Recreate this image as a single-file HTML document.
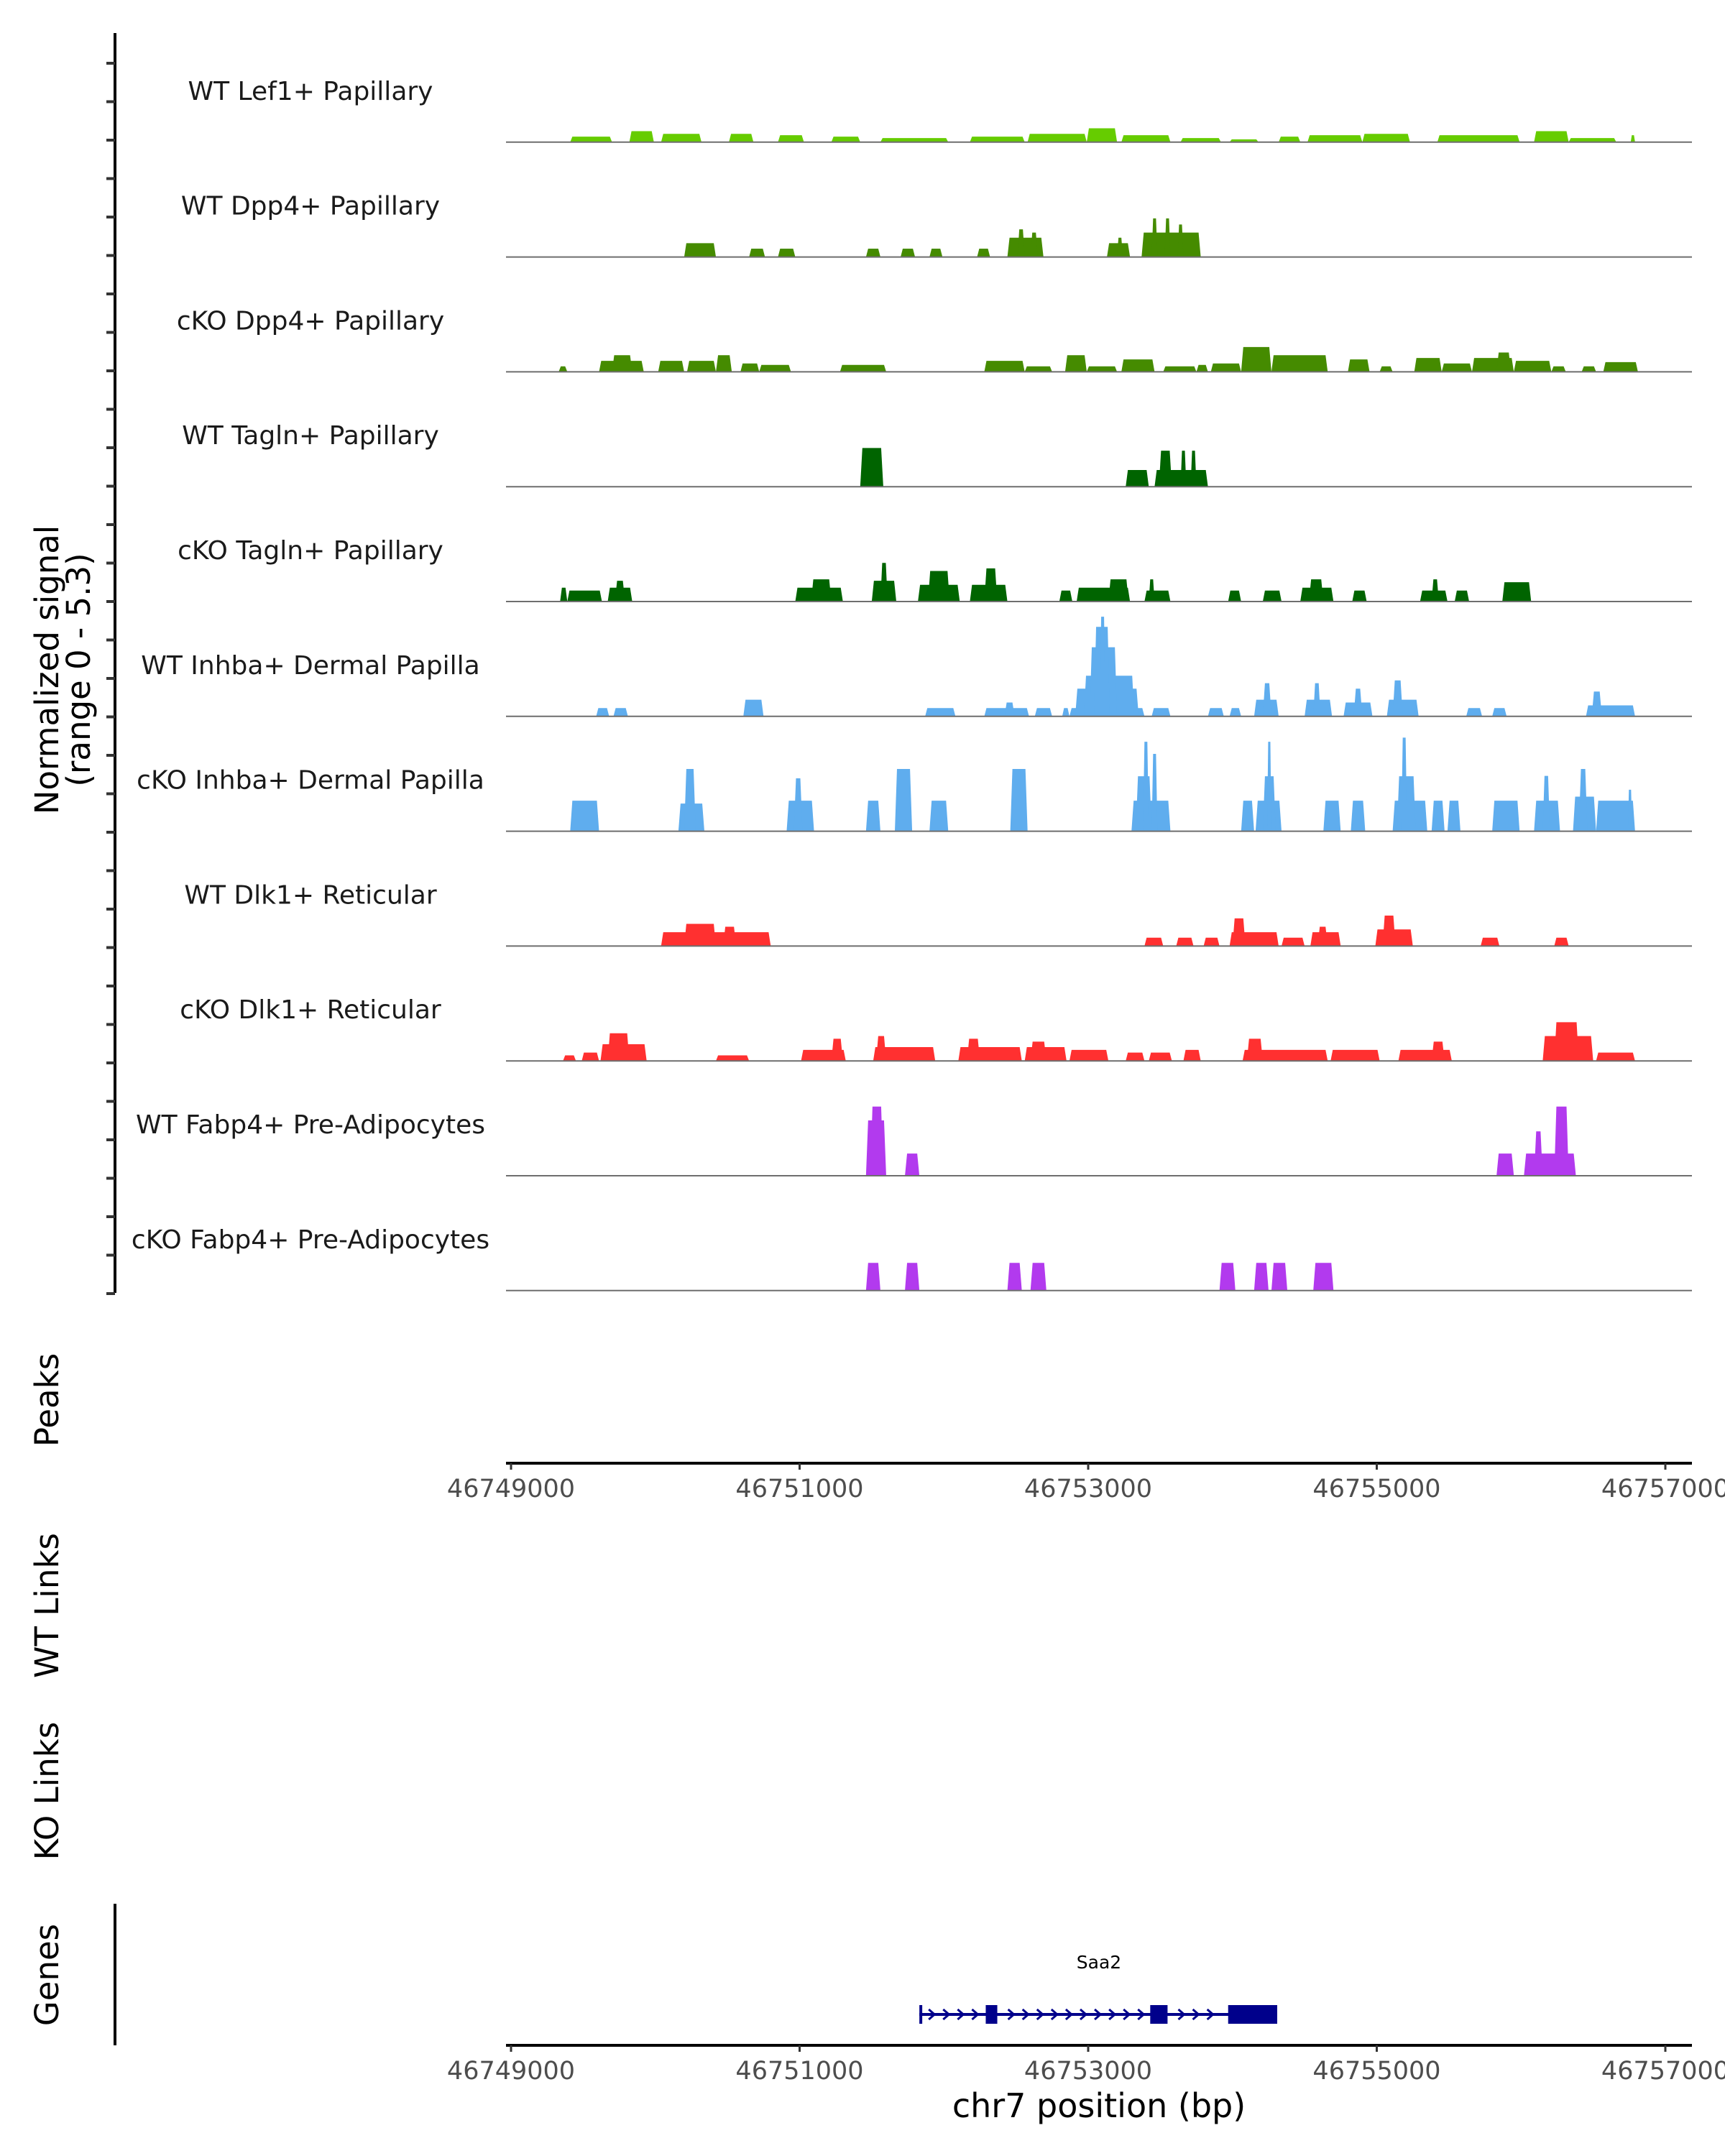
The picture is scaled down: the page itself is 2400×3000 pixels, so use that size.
<!DOCTYPE html>
<html><head><meta charset="utf-8"><style>
html,body{margin:0;padding:0;background:#fff;}
svg{display:block;font-family:"DejaVu Sans","Liberation Sans",sans-serif;}
</style></head><body>
<svg id="fig" width="2400" height="3000" viewBox="0 0 2400 3000" xmlns="http://www.w3.org/2000/svg">
<g id="tracks"></g>
<line x1="160" y1="46" x2="160" y2="1799" stroke="#000" stroke-width="4"/>
<g id="yticks"></g>
<text transform="translate(81,932) rotate(-90)" text-anchor="middle" font-size="45" fill="#000">Normalized signal</text>
<text transform="translate(125,932) rotate(-90)" text-anchor="middle" font-size="45" fill="#000">(range 0 - 5.3)</text>
<text transform="translate(81,1948) rotate(-90)" text-anchor="middle" font-size="45">Peaks</text>
<text transform="translate(81,2234) rotate(-90)" text-anchor="middle" font-size="45">WT Links</text>
<text transform="translate(81,2492) rotate(-90)" text-anchor="middle" font-size="45">KO Links</text>
<text transform="translate(81,2748) rotate(-90)" text-anchor="middle" font-size="45">Genes</text>
<line x1="160" y1="2649" x2="160" y2="2846" stroke="#000" stroke-width="4"/>
<g id="axis1"></g>
<g id="axis2"></g>
<g id="gene"></g>
<text x="1529" y="2946" text-anchor="middle" font-size="46" fill="#000">chr7 position (bp)</text>
</svg>
<script>
// Data: positions in kb offset from 46749000, values in normalized signal (0-5.3)
const trackNames = ["WT Lef1+ Papillary","WT Dpp4+ Papillary","cKO Dpp4+ Papillary","WT Tagln+ Papillary","cKO Tagln+ Papillary","WT Inhba+ Dermal Papilla","cKO Inhba+ Dermal Papilla","WT Dlk1+ Reticular","cKO Dlk1+ Reticular","WT Fabp4+ Pre-Adipocytes","cKO Fabp4+ Pre-Adipocytes"];
const trackColors = ["#66cc00","#458b00","#458b00","#006400","#006400","#5fadee","#5fadee","#ff3030","#ff3030","#b23aee","#b23aee"];
const t1 = [[.41,.70,.27],[.82,.99,.54],[1.04,1.32,.41],[1.51,1.68,.41],[1.85,2.03,.34],[2.22,2.42,.27],[2.56,3.03,.2],[3.18,3.56,.27],[3.58,3.99,.41],[3.99,4.20,.68],[4.23,4.57,.34],[4.64,4.92,.2],[4.98,5.18,.14],[5.32,5.47,.27],[5.52,5.90,.34],[5.90,6.23,.41],[6.42,6.99,.34],[7.09,7.33,.54],[7.33,7.66,.2],[7.76,7.79,.34]];
const t2 = [[1.20,1.42,.68],[1.65,1.76,.41],[1.85,1.97,.41],[2.46,2.56,.41],[2.70,2.80,.41],[2.90,2.99,.41],[3.23,3.32,.41],[3.44,3.69,.95],[3.51,3.56,1.36],[3.60,3.65,1.2],[4.13,4.29,.68],[4.20,4.24,.95],[4.37,4.78,1.2],[4.44,4.48,1.9],[4.53,4.57,1.9],[4.62,4.66,1.6]];
const t3 = [[.33,.39,.27],[.61,.92,.54],[.70,.84,.82],[1.02,1.20,.54],[1.22,1.42,.54],[1.42,1.53,.82],[1.59,1.72,.41],[1.72,1.94,.34],[2.28,2.60,.34],[3.28,3.56,.54],[3.56,3.75,.27],[3.84,3.99,.82],[3.99,4.20,.27],[4.23,4.46,.61],[4.52,4.75,.27],[4.75,4.83,.34],[4.85,5.06,.41],[5.06,5.27,1.22],[5.27,5.66,.82],[5.80,5.95,.61],[6.02,6.11,.27],[6.26,6.45,.68],[6.45,6.66,.41],[6.66,6.95,.68],[6.83,6.93,.95],[6.95,7.21,.54],[7.21,7.31,.27],[7.42,7.52,.27],[7.57,7.81,.48]];
const t4 = [[2.42,2.58,1.9],[4.26,4.42,.82],[4.46,4.83,.82],[4.49,4.58,1.77],[4.64,4.68,1.77],[4.71,4.75,1.77]];
const t5 = [[.34,.39,.68],[.39,.63,.54],[.67,.84,.68],[.72,.79,1.02],[1.97,2.30,.68],[2.08,2.22,1.09],[2.50,2.67,1.02],[2.56,2.61,1.9],[2.82,3.11,.82],[2.89,3.04,1.5],[3.18,3.44,.82],[3.28,3.37,1.63],[3.80,3.89,.54],[3.92,4.29,.68],[4.14,4.28,1.09],[4.39,4.57,.54],[4.42,4.46,1.09],[4.97,5.06,.54],[5.21,5.34,.54],[5.47,5.70,.68],[5.53,5.63,1.09],[5.83,5.93,.54],[6.30,6.49,.54],[6.38,6.43,1.09],[6.54,6.64,.54],[6.87,7.07,.95]];
const t6 = [[.59,.68,.41],[.71,.81,.41],[1.61,1.75,.82],[2.87,3.08,.41],[3.28,3.59,.41],[3.42,3.49,.68],[3.63,3.75,.41],[3.82,3.87,.41],[3.87,4.39,.41],[3.91,4.35,1.36],[3.97,4.32,2.0],[4.01,4.20,3.4],[4.04,4.15,4.4],[4.08,4.12,4.9],[4.44,4.57,.41],[4.83,4.94,.41],[4.98,5.06,.41],[5.15,5.32,.82],[5.21,5.27,1.63],[5.50,5.69,.82],[5.56,5.61,1.63],[5.77,5.97,.68],[5.84,5.90,1.36],[6.07,6.29,.82],[6.11,6.18,1.77],[6.62,6.73,.41],[6.80,6.90,.41],[7.45,7.79,.54],[7.49,7.56,1.22]];
const t7 = [[.41,.61,1.5],[1.16,1.34,1.36],[1.20,1.28,3.06],[1.91,2.10,1.5],[1.96,2.02,2.6],[2.46,2.56,1.5],[2.66,2.78,3.06],[2.90,3.03,1.5],[3.46,3.58,3.06],[4.30,4.57,1.5],[4.33,4.44,2.7],[4.38,4.42,4.4],[4.44,4.48,3.8],[5.06,5.15,1.5],[5.16,5.34,1.5],[5.21,5.30,2.7],[5.24,5.27,4.4],[5.63,5.75,1.5],[5.82,5.92,1.5],[6.11,6.35,1.5],[6.14,6.27,2.7],[6.17,6.21,4.6],[6.38,6.47,1.5],[6.49,6.58,1.5],[6.80,6.99,1.5],[7.09,7.27,1.5],[7.15,7.20,2.72],[7.36,7.52,1.7],[7.40,7.46,3.06],[7.52,7.79,1.5],[7.74,7.77,2.04]];
const t8 = [[1.04,1.80,.68],[1.20,1.42,1.09],[1.47,1.56,.95],[4.39,4.52,.41],[4.61,4.73,.41],[4.80,4.91,.41],[4.98,5.32,.68],[5.00,5.09,1.36],[5.34,5.50,.41],[5.54,5.75,.68],[5.59,5.66,.95],[5.99,6.25,.82],[6.04,6.13,1.5],[6.72,6.85,.41],[7.23,7.33,.41]];
const t9 = [[.36,.45,.27],[.49,.61,.41],[.62,.94,.82],[.67,.82,1.36],[1.42,1.65,.27],[2.01,2.32,.54],[2.22,2.30,1.09],[2.51,2.94,.68],[2.53,2.60,1.22],[3.10,3.54,.68],[3.16,3.25,1.09],[3.56,3.85,.68],[3.60,3.71,.95],[3.87,4.14,.54],[4.26,4.39,.41],[4.42,4.58,.41],[4.66,4.78,.54],[5.07,5.66,.54],[5.10,5.21,1.09],[5.68,6.02,.54],[6.15,6.52,.54],[6.38,6.47,.95],[7.15,7.50,1.22],[7.23,7.40,1.9],[7.52,7.79,.41]];
const t10 = [[2.46,2.60,2.72],[2.49,2.58,3.4],[2.73,2.83,1.09],[6.83,6.95,1.09],[7.02,7.38,1.09],[7.09,7.15,2.18],[7.23,7.33,3.4]];
const t11 = [[2.46,2.56,1.36],[2.73,2.83,1.36],[3.44,3.54,1.36],[3.60,3.71,1.36],[4.91,5.02,1.36],[5.15,5.25,1.36],[5.27,5.38,1.36],[5.56,5.70,1.36]];
const trackData = [t1,t2,t3,t4,t5,t6,t7,t8,t9,t10,t11];
const tickLabels = ["46749000","46751000","46753000","46755000","46757000"];
const tickKb = [0,2,4,6,8];
const geneExons = [[2.83,2.845],[3.29,3.37],[4.43,4.55],[4.97,5.31]];
const geneSpan = [2.83,5.31];
const geneArrows = [2.92,3.02,3.12,3.22,3.47,3.57,3.67,3.77,3.87,3.97,4.07,4.17,4.27,4.37,4.65,4.75,4.85];

const NS="http://www.w3.org/2000/svg";
const x = kb => 711 + kb*200.75;
const TRACK_TOP=38, TRACK_H=159.8, YMAX=5.3, HPX=150;
function mk(tag, attrs, parent){const e=document.createElementNS(NS,tag);for(const k in attrs)e.setAttribute(k,attrs[k]);parent.appendChild(e);return e;}
const tracks=document.getElementById('tracks');
trackData.forEach((blocks,i)=>{
  const base = TRACK_TOP + TRACK_H*(i+1);
  const g = mk('g',{},tracks);
  
  
  const lab = mk('text',{x:432,y:base-59,'text-anchor':'middle','font-size':36,fill:'#1a1a1a'},g);
  lab.textContent = trackNames[i];
  
  
  blocks.forEach(b=>{
    const x0=x(b[0]), x1=x(b[1]), h=b[2]/YMAX*HPX;
    const ins=Math.min(3,(x1-x0)/4);
    const p=mk('polygon',{points:`${x0},${base} ${x0+ins},${base-h} ${x1-ins},${base-h} ${x1},${base}`,fill:trackColors[i]},g);
    
    
  });
  const bl=mk('line',{x1:704,x2:2354,y1:base,y2:base,stroke:'#6e6e6e','stroke-width':2},g);
  
  
});
const yt=document.getElementById('yticks');
for(let y=88;y<=1800;y+=53.5){
  const t=mk('line',{x1:148,x2:160,y1:y,y2:y,stroke:'#333','stroke-width':4},yt);
  
  
}
function axis(id, y){
  const g=document.getElementById(id);
  const l=mk('line',{x1:704,x2:2354,y1:y,y2:y,stroke:'#000','stroke-width':4},g);
  
  
  tickKb.forEach((k,i)=>{
    const t=mk('line',{x1:x(k),x2:x(k),y1:y,y2:y+9,stroke:'#333','stroke-width':3},g);
    
    
    const tx=mk('text',{x:x(k),y:y+47,'text-anchor':'middle','font-size':35,fill:'#4d4d4d'},g);
    tx.textContent=tickLabels[i];
    
    
  });
}
axis('axis1',2036); axis('axis2',2846);
const gg=document.getElementById('gene');
const gy=2803;
const gl=mk('line',{x1:x(geneSpan[0]),x2:x(geneSpan[1]),y1:gy,y2:gy,stroke:'#00008b','stroke-width':4},gg);


geneArrows.forEach(a=>{
  const ax=x(a);
  const p=mk('polyline',{points:`${ax-5},${gy-7} ${ax+3},${gy} ${ax-5},${gy+7}`,fill:'none',stroke:'#00008b','stroke-width':3},gg);
  
  
});
geneExons.forEach((e,i)=>{
  const w=Math.max(4,x(e[1])-x(e[0]));
  const r=mk('rect',{x:x(e[0]),y:gy-13,width:w,height:26,fill:'#00008b'},gg);
  
  
});
const gt=mk('text',{x:1529,y:2739,'text-anchor':'middle','font-size':25,fill:'#000'},gg);
gt.textContent='Saa2';


</script>
</body></html>
